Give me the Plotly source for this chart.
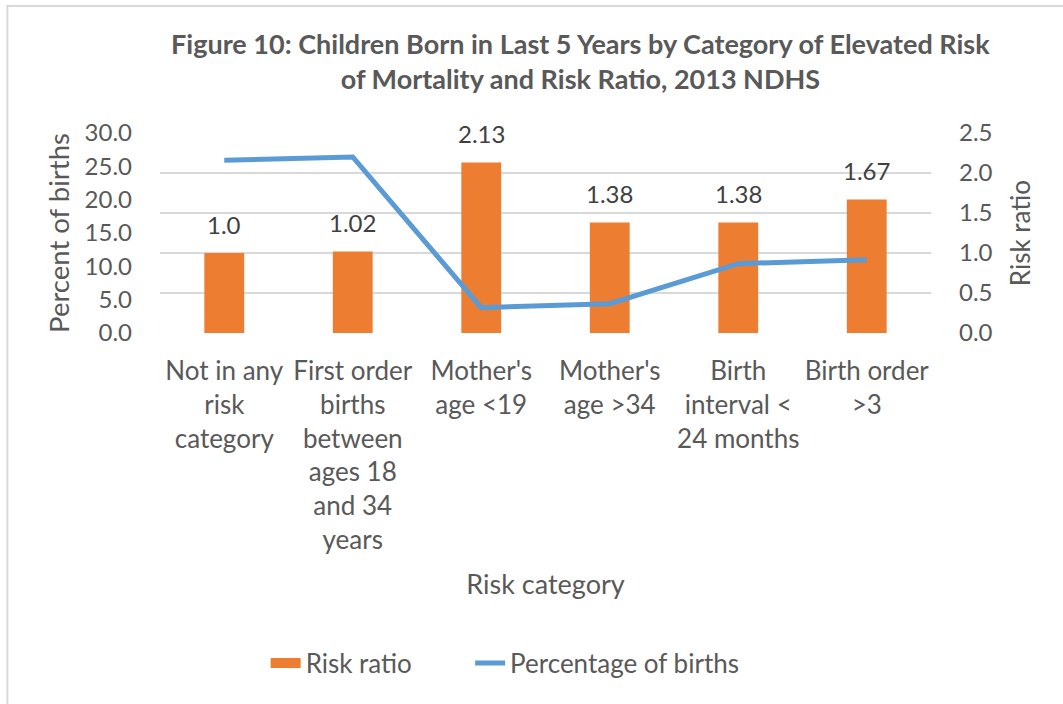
import plotly.graph_objects as go

categories = [
    "Not in any<br>risk<br>category",
    "First order<br>births<br>between<br>ages 18<br>and 34<br>years",
    "Mother's<br>age &lt;19",
    "Mother's<br>age &gt;34",
    "Birth<br>interval &lt;<br>24 months",
    "Birth order<br>&gt;3",
]
risk_ratio = [1.0, 1.02, 2.13, 1.38, 1.38, 1.67]
risk_ratio_labels = ["1.0", "1.02", "2.13", "1.38", "1.38", "1.67"]
pct_births = [25.9, 26.4, 3.8, 4.4, 10.4, 11.0]

left_ticks = [0, 5, 10, 15, 20, 25, 30]
right_ticks = [0, 0.5, 1.0, 1.5, 2.0, 2.5]

FONT = "Lato, 'Open Sans', sans-serif"
TXT = "#595959"
ORANGE = "#ED7D31"
BLUE = "#5B9BD5"
NB = "\u00a0"

fig = go.Figure()
fig.add_trace(go.Bar(
    x=categories, y=risk_ratio, name="Risk ratio",
    marker=dict(color=ORANGE, line=dict(width=0)),
    showlegend=False, yaxis="y",
))
# legend entry for the bars (wide orange swatch)
fig.add_trace(go.Scatter(
    x=[None], y=[None], name="Risk ratio" + NB * 8, mode="lines",
    line=dict(color=ORANGE, width=17), yaxis="y",
))
fig.add_trace(go.Scatter(
    x=categories, y=pct_births, name="Percentage of births",
    mode="lines", line=dict(color=BLUE, width=5),
    yaxis="y2",
))

annotations = [
    dict(x=c, y=v, xref="x", yref="y", text=t, showarrow=False,
         yshift=29, font=dict(size=24, color="#404040", family=FONT))
    for c, v, t in zip(categories, risk_ratio, risk_ratio_labels)
]

fig.update_layout(
    width=1063, height=704,
    paper_bgcolor="white", plot_bgcolor="white",
    margin=dict(l=160, r=132, t=133, b=371),
    font=dict(family=FONT, color=TXT, size=24),
    title=dict(
        text="Figure 10: Children Born in Last 5 Years by Category of Elevated Risk<br>of Mortality and Risk Ratio, 2013 NDHS",
        x=0.546, xanchor="center", y=0.923, yanchor="middle",
        font=dict(size=27, color=TXT, family="Lato, sans-serif", weight="bold"),
    ),
    bargap=0.69,
    showlegend=True,
    legend=dict(orientation="h", x=0.137, xanchor="left", y=-1.65, yanchor="middle",
                font=dict(size=26, color=TXT), traceorder="normal"),
    annotations=annotations,
    xaxis=dict(
        tickfont=dict(size=26, color=TXT), showline=False, ticks="",
        ticklabelstandoff=20,
        title=dict(text="Risk category", font=dict(size=27, color=TXT), standoff=21),
        tickangle=0,
    ),
    yaxis=dict(
        side="right", range=[0, 2.5], tickvals=right_ticks, tickformat=".1f",
        showgrid=True, gridcolor="#D9D9D9", gridwidth=2, zeroline=False,
        tickfont=dict(size=24, color=TXT), ticklabelstandoff=27,
        title=dict(text="Risk ratio", font=dict(size=26, color=TXT), standoff=20),
    ),
    yaxis2=dict(
        side="left", overlaying="y", range=[0, 30], tickvals=left_ticks, tickformat=".1f",
        showgrid=False, zeroline=False,
        tickfont=dict(size=24, color=TXT), ticklabelstandoff=27,
        title=dict(text="Percent of births", font=dict(size=27.5, color=TXT), standoff=6),
    ),
    shapes=[dict(type="rect", xref="paper", yref="paper",
                 x0=-0.198, x1=1.2, y0=-2.1, y1=1.635,
                 line=dict(color="#D9D9D9", width=2), fillcolor="rgba(0,0,0,0)", layer="below")],
)

fig.write_html("out.html", config={"displayModeBar": False},
               post_script="document.body.style.margin='0';")
